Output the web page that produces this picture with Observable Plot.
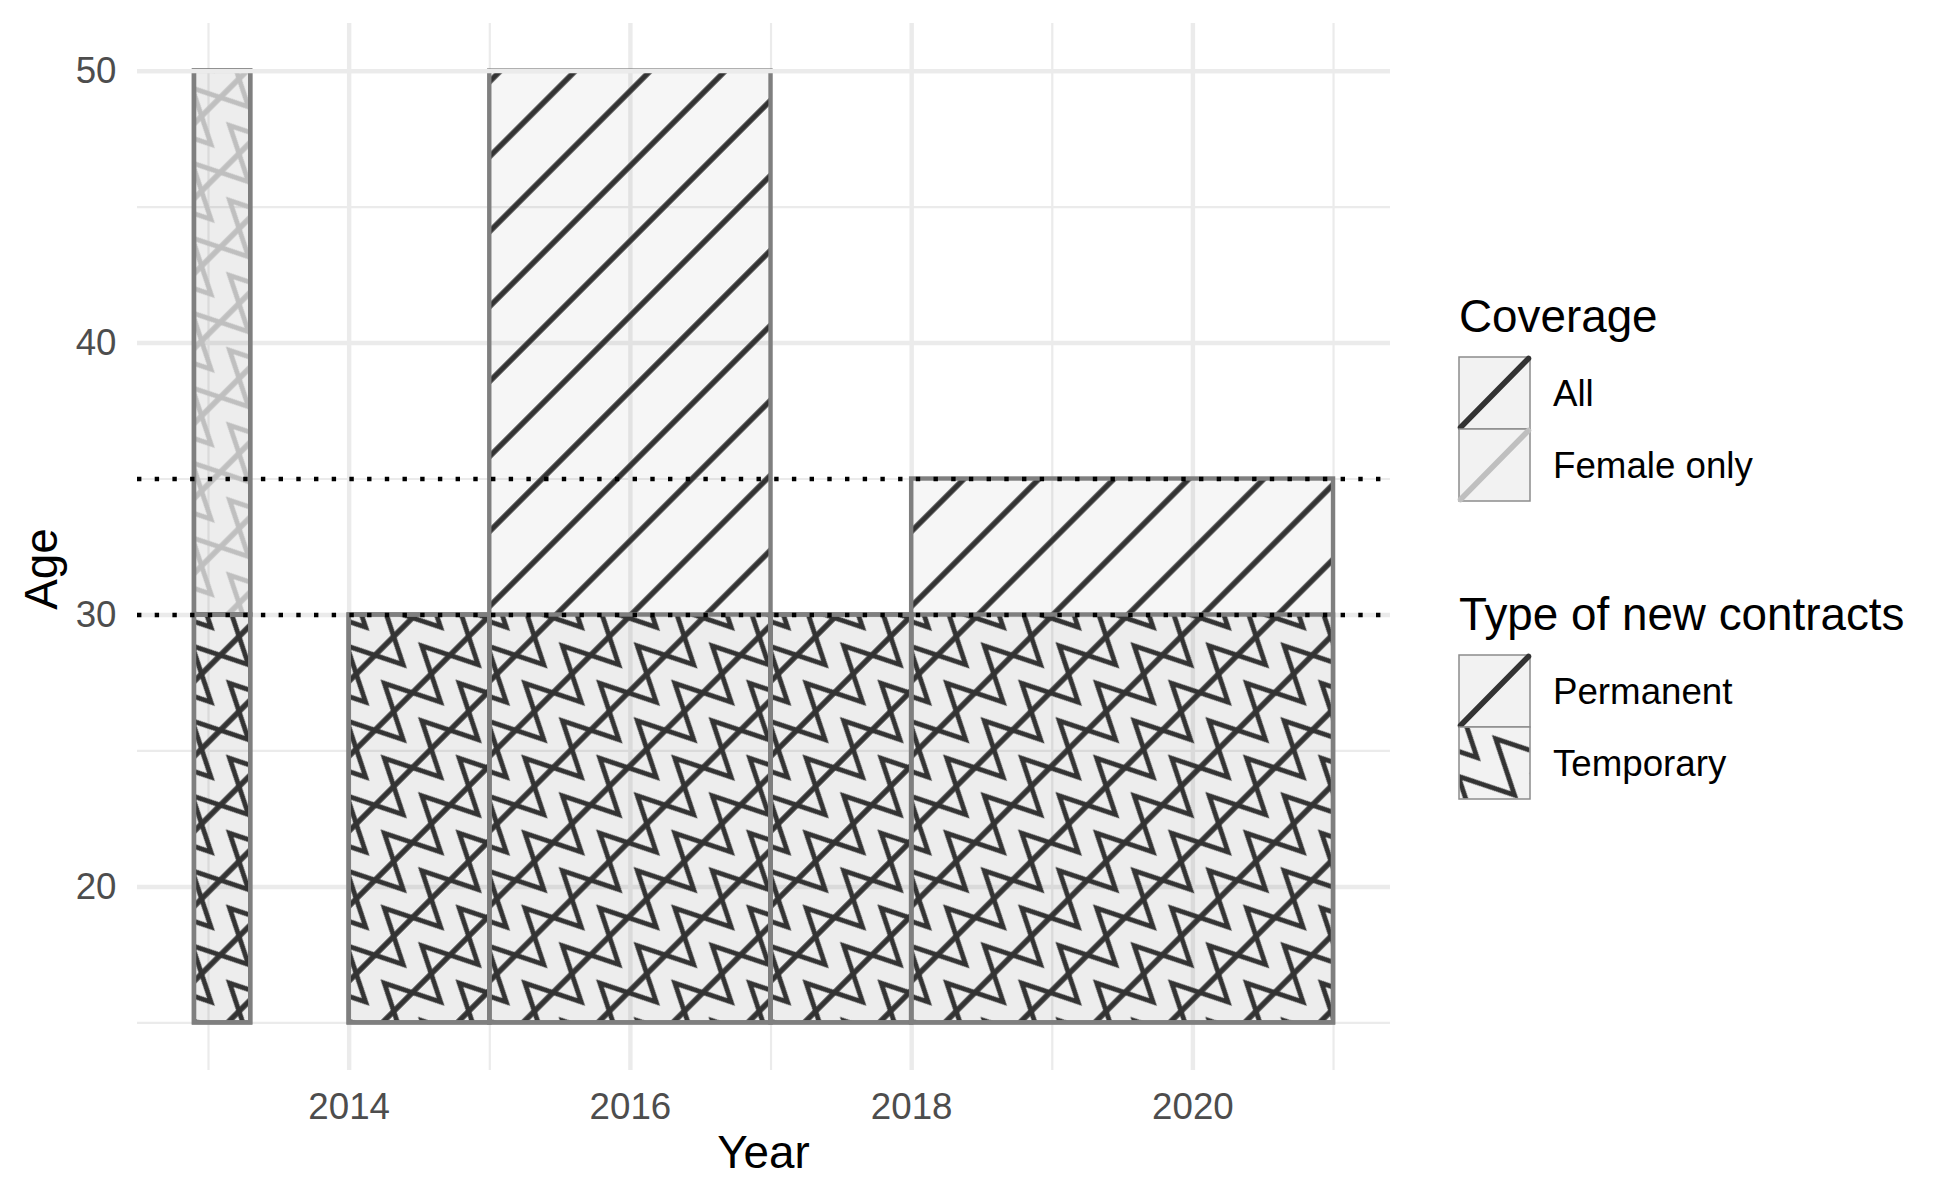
<!DOCTYPE html>
<html><head><meta charset="utf-8">
<script src="https://cdn.jsdelivr.net/npm/d3@7"></script>
<script src="https://cdn.jsdelivr.net/npm/@observablehq/plot@0.6"></script>
<style>html,body{margin:0;padding:0;background:#fff;}#chart{width:1950px;height:1200px;}</style>
</head><body><div id="chart"></div>
<script>
const FONT = '"Liberation Sans", Arial, Helvetica, sans-serif';

// ---- data ----
const xStart   = [2012.9, 2012.9, 2012.9, 2012.9, 2014, 2014, 2015, 2015, 2017, 2017, 2018, 2018];
const xEnd     = [2013.3, 2013.3, 2013.3, 2013.3, 2015, 2015, 2017, 2017, 2018, 2018, 2021, 2021];
const ageFrom  = [30, 30, 15, 15, 15, 15, 15, 15, 15, 15, 15, 15];
const ageTo    = [50, 50, 30, 30, 30, 30, 50, 30, 30, 30, 35, 30];
const coverage = ["Female only", "Female only", "All", "All", "All", "All", "All", "All", "All", "All", "All", "All"];
const contract = ["Permanent", "Temporary", "Permanent", "Temporary", "Permanent", "Temporary",
                  "Permanent", "Temporary", "Permanent", "Temporary", "Permanent", "Temporary"];
const ageThresholds = [30, 35];
const xTicks = [2014, 2016, 2018, 2020];
const xMinor = [2013, 2015, 2017, 2019, 2021];
const yTicks = [20, 30, 40, 50];
const yMinor = [15, 25, 35, 45];
const coverageLevels = ["All", "Female only"];
const coverageColors = ["#333333", "#bfbfbf"];
const contractLevels = ["Permanent", "Temporary"];
const coverageTitle = "Coverage";
const contractTitle = "Type of new contracts";
const xTitle = "Year";
const yTitle = "Age";

const rects = xStart.map((d, i) => ({x1: d, x2: xEnd[i], y1: ageFrom[i], y2: ageTo[i], coverage: coverage[i], contract: contract[i]}));
const colorOf = c => coverageColors[coverageLevels.indexOf(c)];

function expand([a, b], f = 0.05) { const r = b - a; return [a - r * f, b + r * f]; }
const xDom = expand([d3.min(xStart), d3.max(xEnd)]);
const yDom = expand([d3.min(ageFrom), d3.max(ageTo)]);

const MAJ = 4.4, MIN = 2.2, GRID = "#ebebeb";
const plot = Plot.plot({
  width: 1950, height: 1200,
  marginLeft: 137, marginRight: 560, marginTop: 23, marginBottom: 130,
  style: {fontFamily: FONT, background: "#fff", overflow: "visible"},
  x: {domain: xDom},
  y: {domain: yDom},
  marks: [
    Plot.gridX(xMinor, {stroke: GRID, strokeOpacity: 1, strokeWidth: MIN}),
    Plot.gridY(yMinor, {stroke: GRID, strokeOpacity: 1, strokeWidth: MIN}),
    Plot.gridX(xTicks, {stroke: GRID, strokeOpacity: 1, strokeWidth: MAJ}),
    Plot.gridY(yTicks, {stroke: GRID, strokeOpacity: 1, strokeWidth: MAJ}),
    Plot.rect(rects, {x1: "x1", x2: "x2", y1: "y1", y2: "y2", fill: "#000", fillOpacity: 0.035, className: "rfill"}),
    Plot.rect(rects, {x1: "x1", x2: "x2", y1: "y1", y2: "y2", fill: "none", className: "rpat"}),
    Plot.rect(rects, {x1: "x1", x2: "x2", y1: "y1", y2: "y2", fill: "none", stroke: "#7f7f7f", strokeWidth: MAJ, className: "rborder"}),
    Plot.ruleY([d3.max(yTicks)], {stroke: GRID, strokeWidth: MAJ}),
    Plot.ruleY(ageThresholds, {stroke: "#000", strokeWidth: MAJ, strokeDasharray: "4.4 13.3"}),
    Plot.axisX({ticks: xTicks, tickSize: 0, tickPadding: 22, fontSize: 36.7, color: "#4d4d4d", tickFormat: d => String(d), label: null}),
    Plot.axisY({ticks: yTicks, tickSize: 0, tickPadding: 21, fontSize: 36.7, color: "#4d4d4d", label: null})
  ]
});
document.getElementById("chart").appendChild(plot);

// ---- patterns ----
const svg = d3.select(plot);
const defs = svg.insert("defs", ":first-child");
const SP = 53, AMP = SP / 2, LW = 5.4, OFF = 24;
function makePattern(id, kind, color, ox, oy, off = OFF) {
  const p = defs.append("pattern").attr("id", id).attr("patternUnits", "userSpaceOnUse")
    .attr("width", SP).attr("height", SP)
    .attr("patternTransform", `translate(${ox},${oy}) rotate(-45) translate(0,${off})`);
  if (kind === "Permanent") {
    for (const yy of [0, SP]) p.append("line").attr("x1", -2).attr("x2", SP + 2).attr("y1", yy).attr("y2", yy)
      .attr("stroke", color).attr("stroke-width", LW);
  } else {
    for (const k of [-1, 0, 1, 2]) {
      const pts = [[-SP / 2, AMP], [0, -AMP], [SP / 2, AMP], [SP, -AMP], [SP * 1.5, AMP]].map(([x, y]) => [x, y + k * SP]);
      p.append("polyline").attr("points", pts.map(d => d.join(",")).join(" "))
        .attr("fill", "none").attr("stroke", color).attr("stroke-width", LW * 0.9).attr("stroke-linejoin", "miter");
    }
  }
}
svg.selectAll("g.rpat rect").each(function (_, i) {
  const r = rects[i];
  const x = +this.getAttribute("x"), y = +this.getAttribute("y"), h = +this.getAttribute("height");
  const id = "pat" + i;
  makePattern(id, r.contract, colorOf(r.coverage), x, y + h);
  this.setAttribute("fill", `url(#${id})`);
});

// ---- axis titles ----
svg.append("text").attr("x", (137 + 1390) / 2).attr("y", 1168).attr("text-anchor", "middle")
  .attr("font-family", FONT).attr("font-size", 45.8).attr("fill", "#000").text(xTitle);
svg.append("text").attr("transform", `translate(57,569) rotate(-90)`).attr("text-anchor", "middle")
  .attr("font-family", FONT).attr("font-size", 45.8).attr("fill", "#000").text(yTitle);

// ---- legends ----
const KX = 1459, KW = 71, KH = 72, LX = 1553;
const lg = svg.append("g").attr("font-family", FONT).attr("fill", "#000").attr("text-anchor", "start");
function drawKey(x, y, kind, color, idx) {
  lg.append("rect").attr("x", x).attr("y", y).attr("width", KW).attr("height", KH)
    .attr("fill", "#f2f2f2").attr("stroke", "#8c8c8c").attr("stroke-width", 1.5);
  if (kind === "Permanent") {
    lg.append("line").attr("x1", x + 1.5).attr("y1", y + KH - 1.5).attr("x2", x + KW - 1.5).attr("y2", y + 1.5)
      .attr("stroke", color).attr("stroke-width", 5.5).attr("stroke-linecap", "round");
  } else {
    const id = "lgpat" + idx;
    makePattern(id, "Temporary", color, x + 18, y + KH - 4, 0);
    lg.append("rect").attr("x", x + 0.75).attr("y", y + 0.75).attr("width", KW - 1.5).attr("height", KH - 1.5)
      .attr("fill", `url(#${id})`);
  }
}
// Coverage legend
lg.append("text").attr("x", KX).attr("y", 332).attr("font-size", 45.8).text(coverageTitle);
coverageLevels.forEach((c, i) => {
  const y = 357 + i * KH;
  drawKey(KX, y, "Permanent", coverageColors[i], "c" + i);
  lg.append("text").attr("x", LX).attr("y", y + KH / 2).attr("dy", "0.36em").attr("font-size", 36.7).text(c);
});
// Contract legend
lg.append("text").attr("x", KX).attr("y", 630).attr("font-size", 45.8).text(contractTitle);
contractLevels.forEach((c, i) => {
  const y = 655 + i * KH;
  drawKey(KX, y, c, coverageColors[0], "t" + i);
  lg.append("text").attr("x", LX).attr("y", y + KH / 2).attr("dy", "0.36em").attr("font-size", 36.7).text(c);
});
</script>
</body></html>
